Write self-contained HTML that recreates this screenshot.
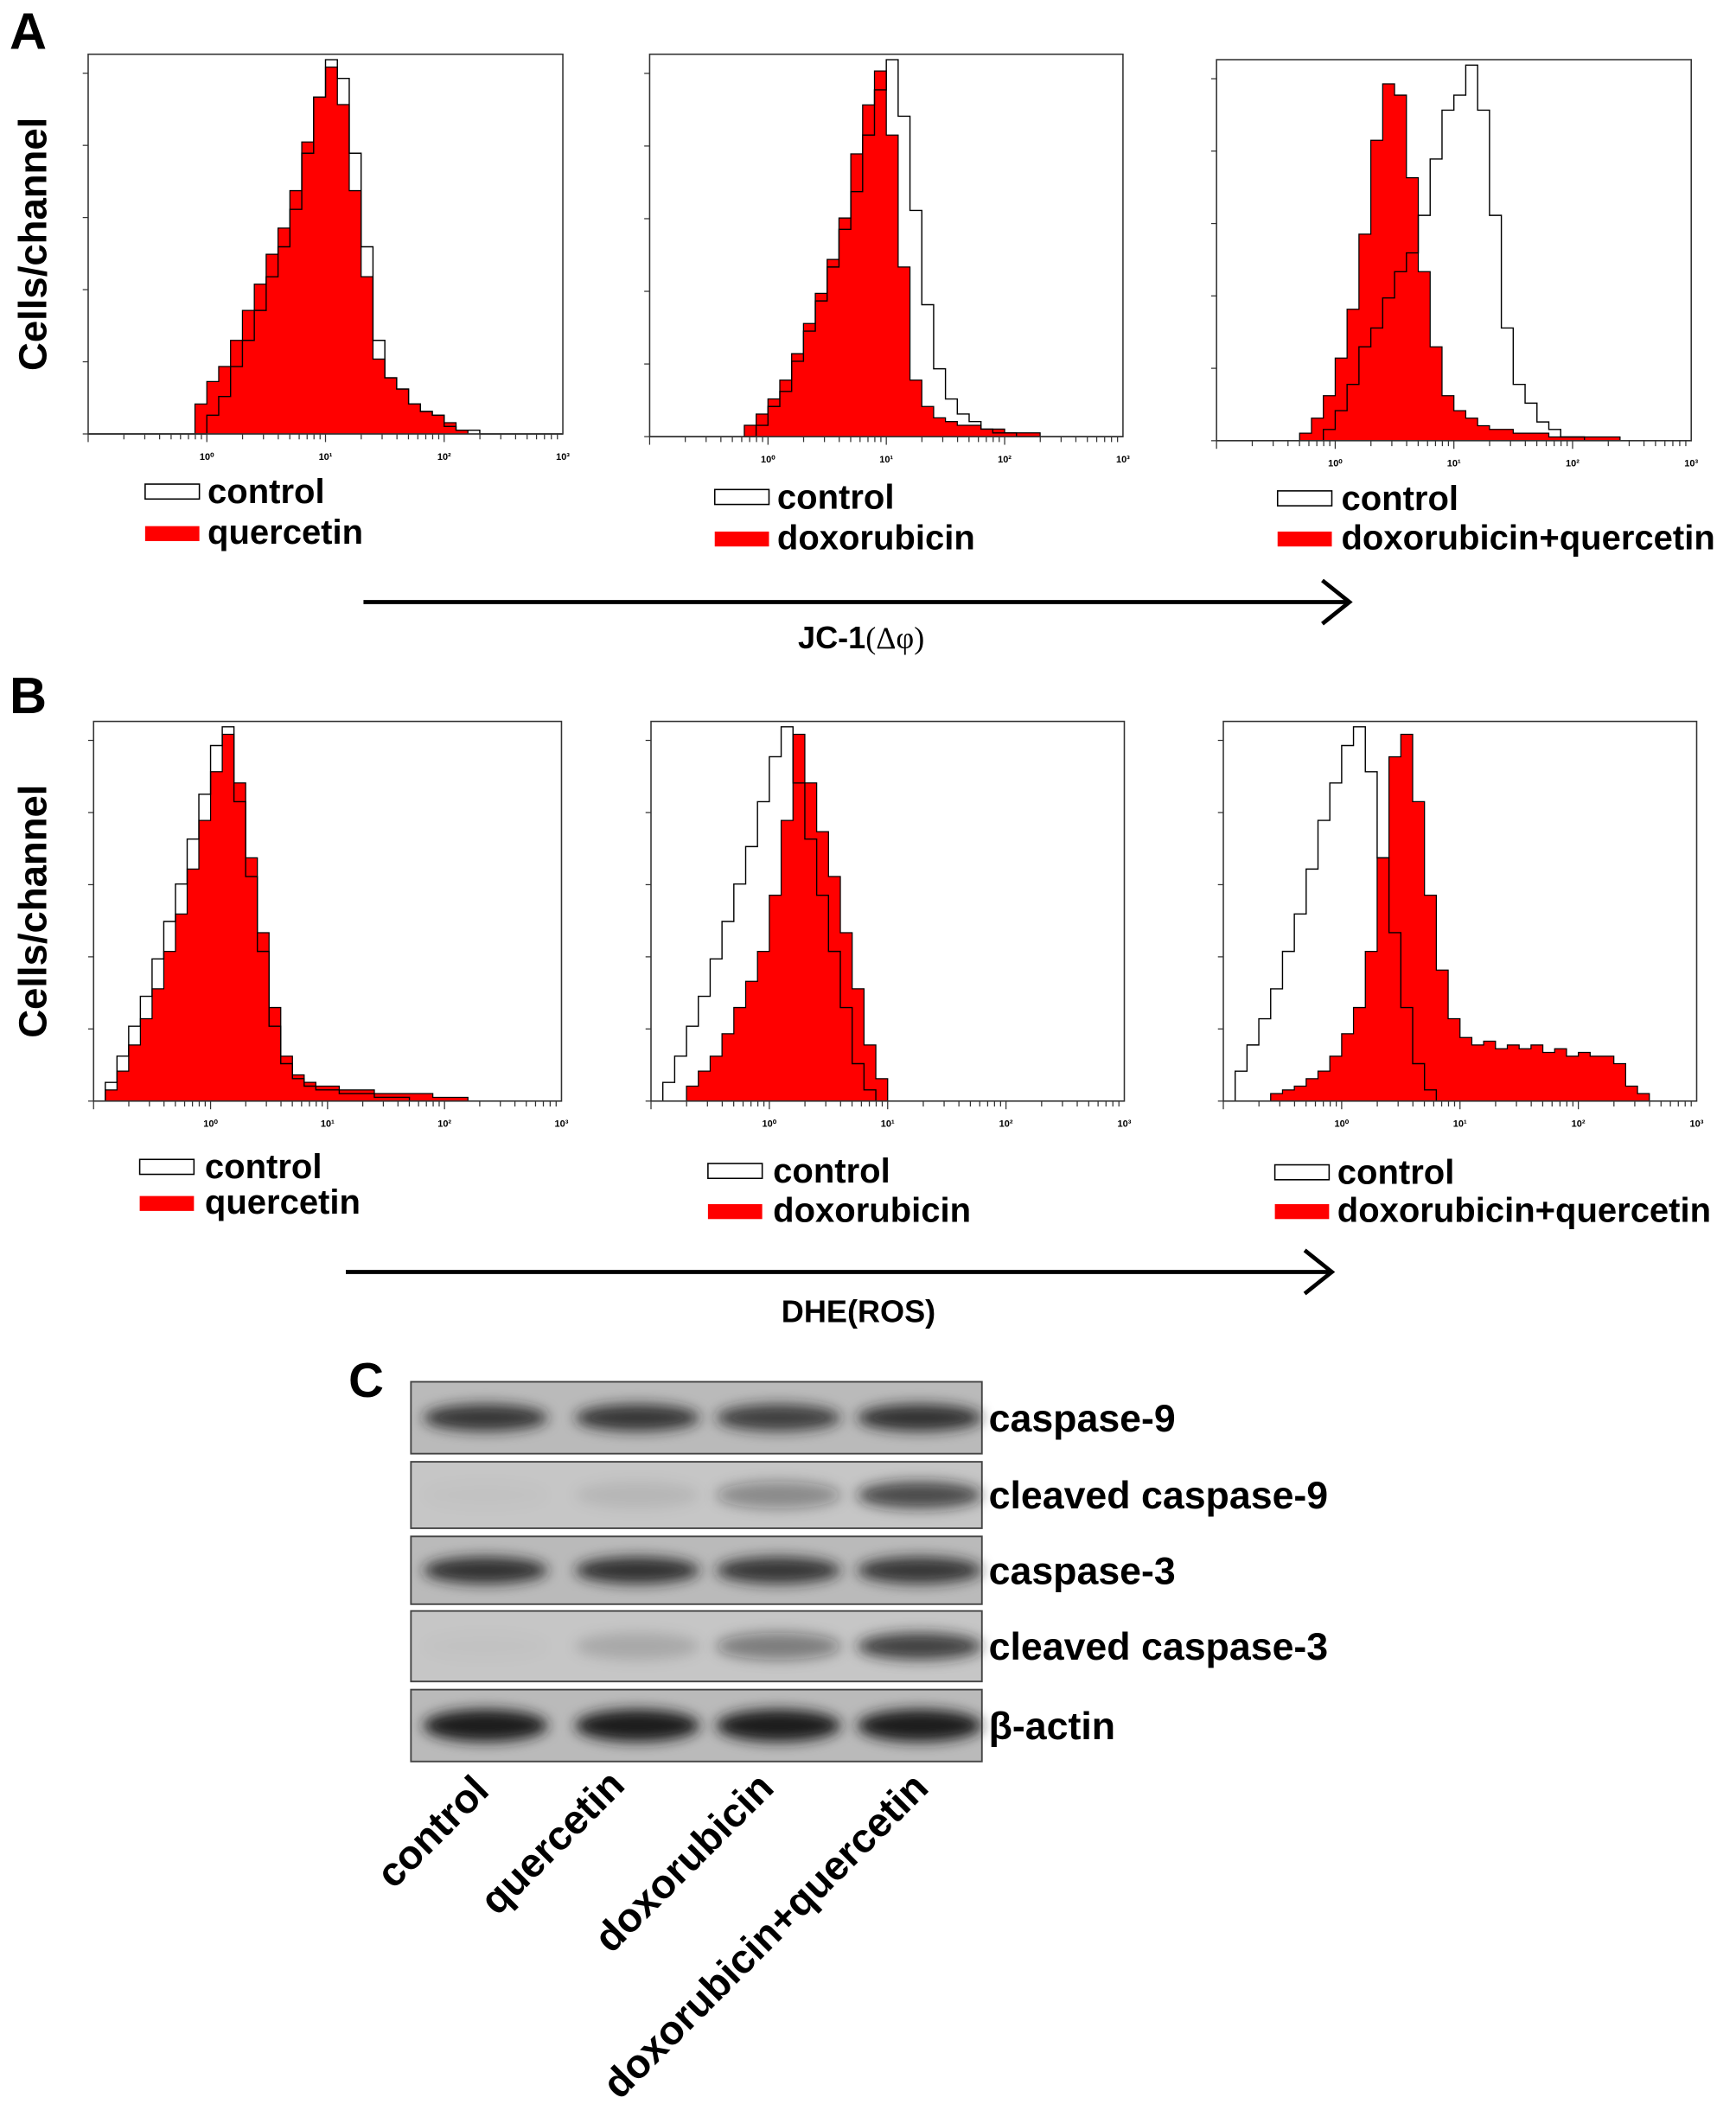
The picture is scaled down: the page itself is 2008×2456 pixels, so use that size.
<!DOCTYPE html>
<html><head><meta charset="utf-8"><style>
html,body{margin:0;padding:0;background:#fff;width:2008px;height:2456px;overflow:hidden}
svg{display:block}
text{font-family:"Liberation Sans",sans-serif;font-weight:bold;fill:#000}
</style></head><body>
<svg id="fig" width="2008" height="2456" viewBox="0 0 1280 1565.6" xmlns="http://www.w3.org/2000/svg">
<defs><filter id="blur" x="-30%" y="-60%" width="160%" height="220%"><feGaussianBlur stdDeviation="5"/></filter></defs>
<text x="7" y="36" font-size="38">A</text>
<text x="7" y="526" font-size="38">B</text>
<text x="257" y="1030" font-size="36">C</text>
<text transform="translate(34,180) rotate(-90)" text-anchor="middle" font-size="29">Cells/channel</text>
<text transform="translate(34,672) rotate(-90)" text-anchor="middle" font-size="29">Cells/channel</text>
<g stroke="#000" stroke-width="3" fill="none"><line x1="268" y1="444" x2="995" y2="444"/><polyline points="975,428 995,444 975,460"/></g>
<text x="635" y="478" text-anchor="middle" font-size="23">JC-1<tspan font-family="Liberation Serif" font-weight="normal">(Δφ)</tspan></text>
<g stroke="#000" stroke-width="3" fill="none"><line x1="255" y1="938" x2="982" y2="938"/><polyline points="962,922 982,938 962,954"/></g>
<text x="633" y="975" text-anchor="middle" font-size="23">DHE(ROS)</text>
<g id="plots"></g>
<g id="blot"></g>
</svg>
<script>
// histogram bins: log10 from -1 to 3, step 0.1 (40 bins)
const binStart = -1, binStep = 0.1;
const a1Control = [0,0,0,0,0,0,0,0,0,0,5,10,18,25,33,42,50,60,75,90,100,95,75,50,25,15,12,8,6,5,2,1,1,0,0,0,0,0,0,0];
const a1Treat   = [0,0,0,0,0,0,0,0,0,8,14,18,25,33,40,48,55,65,78,90,98,88,65,42,20,15,12,8,6,5,3,1,0,0,0,0,0,0,0,0];
const a2Control = [0,0,0,0,0,0,0,0,0,3,8,12,20,28,36,45,55,65,80,92,100,85,60,35,18,10,6,4,2,1,1,0,0,0,0,0,0,0,0,0];
const a2Treat   = [0,0,0,0,0,0,0,0,3,6,10,15,22,30,38,47,58,75,88,97,80,45,15,8,5,4,3,3,2,2,1,1,1,0,0,0,0,0,0,0];
const a3Control = [0,0,0,0,0,0,0,0,0,3,8,15,25,30,38,45,50,60,75,88,92,100,88,60,30,15,10,5,3,1,1,0,0,0,0,0,0,0,0,0];
const a3Treat   = [0,0,0,0,0,0,0,2,6,12,22,35,55,80,95,92,70,45,25,12,8,6,4,3,3,2,2,2,1,1,1,1,1,1,0,0,0,0,0,0];
const b1Control = [0,5,12,20,28,38,48,58,70,82,95,100,80,60,40,20,10,6,4,3,3,2,2,2,1,1,1,0,0,0,0,0,0,0,0,0,0,0,0,0];
const b1Treat   = [0,3,8,15,22,30,40,50,62,75,88,98,85,65,45,25,12,7,5,4,4,3,3,3,2,2,2,2,2,1,1,1,0,0,0,0,0,0,0,0];
const b2Control = [0,5,12,20,28,38,48,58,68,80,92,100,85,70,55,40,25,10,3,0,0,0,0,0,0,0,0,0,0,0,0,0,0,0,0,0,0,0,0,0];
const b2Treat   = [0,0,0,4,8,12,18,25,32,40,55,75,98,85,72,60,45,30,15,6,0,0,0,0,0,0,0,0,0,0,0,0,0,0,0,0,0,0,0,0];
const b3Control = [0,8,15,22,30,40,50,62,75,85,95,100,88,65,45,25,10,3,0,0,0,0,0,0,0,0,0,0,0,0,0,0,0,0,0,0,0,0,0,0];
const b3Treat   = [0,0,0,0,2,3,4,6,8,12,18,25,40,65,92,98,80,55,35,22,17,15,16,14,15,14,15,13,14,12,13,12,12,10,4,2,0,0,0,0];
const tickLabels = ["10⁰","10¹","10²","10³"];
const tickDecades = [0,1,2,3];

const plots = [
 {id:"a1",x:65,y:40,w:350,h:280,c:a1Control,t:a1Treat,leg:[107,153,357,388],name:"quercetin"},
 {id:"a2",x:479,y:40,w:349,h:282,c:a2Control,t:a2Treat,leg:[527,573,361,392],name:"doxorubicin"},
 {id:"a3",x:897,y:44,w:350,h:281,c:a3Control,t:a3Treat,leg:[942,989,362,392],name:"doxorubicin+quercetin"},
 {id:"b1",x:69,y:532,w:345,h:280,c:b1Control,t:b1Treat,leg:[103,151,855,882],name:"quercetin"},
 {id:"b2",x:480,y:532,w:349,h:280,c:b2Control,t:b2Treat,leg:[522,570,858,888],name:"doxorubicin"},
 {id:"b3",x:902,y:532,w:349,h:280,c:b3Control,t:b3Treat,leg:[940,986,859,888],name:"doxorubicin+quercetin"}
];
const NS="http://www.w3.org/2000/svg";
function mk(tag,attrs,parent){const e=document.createElementNS(NS,tag);for(const k in attrs)e.setAttribute(k,attrs[k]);parent.appendChild(e);return e;}
const root=document.getElementById("plots");
plots.forEach(p=>{
  const g=mk("g",{},root);
  
  
  const xs=v=>p.x+(v-binStart)/4*p.w;
  const ys=v=>p.y+p.h-v/100*(p.h-4);
  const stepPts=arr=>{let pts=[];arr.forEach((v,i)=>{const x0=xs(binStart+i*binStep),x1=xs(binStart+(i+1)*binStep);pts.push(x0+","+ys(v),x1+","+ys(v));});return pts;};
  const base=p.y+p.h;
  const tp=stepPts(p.t);
  const fill=mk("polygon",{points:xs(binStart)+","+base+" "+tp.join(" ")+" "+xs(3)+","+base,fill:"#ff0000",stroke:"#000","stroke-width":"0.8"},g);
  
  
  const cl=mk("polyline",{points:stepPts(p.c).join(" "),fill:"none",stroke:"#000","stroke-width":"0.9"},g);
  
  
  const box=mk("rect",{x:p.x,y:p.y,width:p.w,height:p.h,fill:"none",stroke:"#333","stroke-width":"1"},g);
  
  
  for(let k=0;k<=5;k++){mk("line",{x1:p.x-4,x2:p.x,y1:p.y+p.h-k*p.h*0.19,y2:p.y+p.h-k*p.h*0.19,stroke:"#333","stroke-width":"0.8"},g);}
  for(let d=-1;d<3;d++){for(let m=1;m<10;m++){const x=xs(d+Math.log10(m));mk("line",{x1:x,x2:x,y1:base,y2:base+(m==1?6:4),stroke:"#333","stroke-width":"0.8"},g);}}
  tickDecades.forEach((d,i)=>{const t=mk("text",{x:xs(d),y:base+19,"text-anchor":"middle","font-size":"7","font-weight":"normal"},g);t.textContent=tickLabels[i];
    
    });
  const [lx,tx,ly1,ly2]=p.leg;
  const s1=mk("rect",{x:lx,y:ly1,width:40,height:11,fill:"#fff",stroke:"#000","stroke-width":"1"},g);
  
  
  const t1=mk("text",{x:tx,y:ly1+14,"font-size":"25.5"},g);t1.textContent="control";
  
  
  const s2=mk("rect",{x:lx,y:ly2,width:40,height:11,fill:"#ff0000"},g);
  
  
  const t2=mk("text",{x:tx,y:ly2+13,"font-size":"25.5"},g);t2.textContent=p.name;
  
  
});

// western blot band intensities (0-1) per lane
const lanes = ["control","quercetin","doxorubicin","doxorubicin+quercetin"];
const rowLabels = ["caspase-9","cleaved caspase-9","caspase-3","cleaved caspase-3","β-actin"];
const casp9 = [0.85,0.85,0.8,0.88];
const cleaved9 = [0.02,0.08,0.35,0.72];
const casp3 = [0.88,0.88,0.85,0.85];
const cleaved3 = [0.02,0.15,0.42,0.8];
const actin = [1,1,1,1];
const rows=[casp9,cleaved9,casp3,cleaved3,actin];
const rowBoxes=[[1019,53],[1078,49],[1133,50],[1188,52],[1246,53]];
const laneX=[358,470,574,678];
const blot=document.getElementById("blot");
rows.forEach((vals,r)=>{
  const g=mk("g",{},blot);
  
  
  const [by,bh]=rowBoxes[r];
  const bg=mk("rect",{x:303,y:by,width:421,height:bh,fill:r==1||r==3?"#c6c6c6":"#bababa",stroke:"#444","stroke-width":"1.2"},g);
  
  
  vals.forEach((v,i)=>{
    const band=mk("ellipse",{cx:laneX[i],cy:by+bh/2,rx:46,ry:r==4?12:10,fill:"#1e1e1e","fill-opacity":v,filter:"url(#blur)"},g);
    
    
  });
  const t=mk("text",{x:729,y:by+bh/2+10,"font-size":"28.5"},g);t.textContent=rowLabels[r];
  
  
});
const ends=[[362,1322],[462,1318],[572,1320],[686,1320]];
lanes.forEach((l,i)=>{
  const t=mk("text",{transform:"translate("+ends[i][0]+","+ends[i][1]+") rotate(-45)","text-anchor":"end","font-size":"30"},blot);
  t.textContent=l;
  
  
});
</script>
</body></html>
